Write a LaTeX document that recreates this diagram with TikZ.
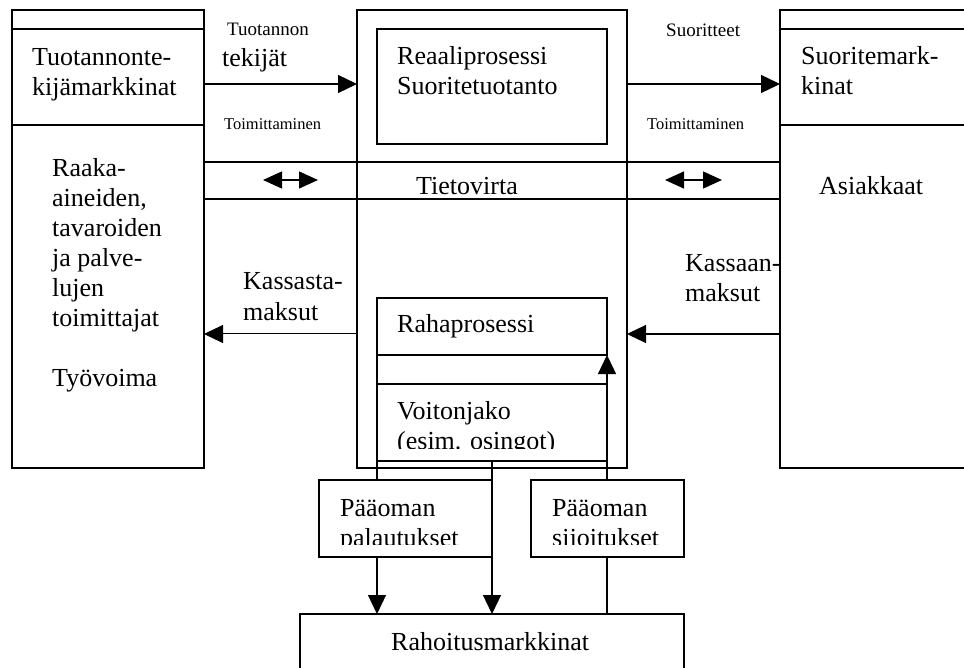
\documentclass[tikz,border=0pt]{standalone}
\usepackage{fontspec}
\setmainfont{Liberation Serif}
\usetikzlibrary{arrows.meta,calc}

\tikzset{
  box/.style={draw, line width=1.6pt, inner sep=0pt, outer sep=0pt, anchor=north west},
  flow/.style={line width=1.3pt, -{Triangle[length=19pt,width=18pt]}},
  swap/.style={line width=1.3pt, {Triangle[length=19pt,width=17pt]}-{Triangle[length=19pt,width=17pt]}},
  txt/.style={anchor=base west, align=left, inner sep=0pt, font=\fontsize{26}{30}\selectfont},
  lbl/.style={anchor=base west, inner sep=0pt, font=\fontsize{19}{22}\selectfont},
  lblsmall/.style={anchor=base west, inner sep=0pt, font=\fontsize{16.5}{20}\selectfont},
}

\begin{document}
\begin{tikzpicture}[x=1pt, y=-1pt]
  \useasboundingbox (0,0) rectangle (964,668);
  % rows used by the horizontal flows
  \coordinate (row1) at (0,84);
  \coordinate (band1) at (0,162);
  \coordinate (band2) at (0,199);
  \coordinate (row2) at (0,334);

  % markets on both sides
  \node[box, minimum width=192pt, minimum height=458pt] (tmk) at (12,10) {};
  \node[box, minimum width=200pt, minimum height=458pt] (asi) at (780,10) {};
  \foreach \n in {tmk, asi} {
    \draw[line width=1.6pt] ($(\n.north west)+(0,19)$) -- ($(\n.north east)+(0,19)$);
    \draw[line width=1.6pt] ($(\n.north west)+(0,115)$) -- ($(\n.north east)+(0,115)$);
  }

  % the firm in the middle
  \node[box, minimum width=270pt, minimum height=458pt] (yri) at (357,10) {};
  \node[box, minimum width=230pt, minimum height=115pt] (reaali) at (377,29) {};
  \node[box, minimum width=230pt, minimum height=57pt] (raha) at (377,298) {};
  \node[box, minimum width=230pt, minimum height=77pt] (voi) at (377,384) {};

  % capital boxes and financial markets
  \node[box, minimum width=173pt, minimum height=77pt] (pal) at (319,480) {};
  \node[box, minimum width=153pt, minimum height=77pt] (sij) at (531,480) {};
  \node[box, minimum width=384pt, minimum height=90pt] (rahm) at (300,614) {};

  % information band
  \draw[line width=1.3pt] (tmk.east |- band1) -- (asi.west |- band1);
  \draw[line width=1.3pt] (tmk.east |- band2) -- (asi.west |- band2);
  \coordinate (s1a) at (263,180);
  \coordinate (s1b) at (318,180);
  \coordinate (s2a) at (665,180);
  \coordinate (s2b) at (722,180);
  \draw[swap] (s1a) -- (s1b);
  \draw[swap] (s2a) -- (s2b);

  % real and money flows
  \draw[flow] (tmk.east |- row1) -- (yri.west |- row1);
  \draw[flow] (yri.east |- row1) -- (asi.west |- row1);
  \draw[flow, line width=1pt] (yri.west |- row2) -- (tmk.east |- row2);
  \draw[flow] (asi.west |- row2) -- (yri.east |- row2);

  % capital flows
  \draw[line width=1.3pt] (raha.south west) -- (voi.north west);
  \draw[line width=1.3pt] (voi.south west) -- (pal.north -| voi.west);
  \draw[flow] (pal.south -| voi.west) -- (rahm.north -| voi.west);
  \draw[flow] (voi.south) -- (rahm.north);
  \draw[flow] (sij.north -| raha.east) -- (raha.south east);
  \draw[line width=1.3pt] (rahm.north -| raha.east) -- (sij.south -| raha.east);

  % texts (base = baseline of the last line)
  \node[txt] (tmkname) at (32,96) {Tuotannonte-\\kijämarkkinat};
  \node[txt] (toimittajat) at (52,386) {Raaka-\\aineiden,\\tavaroiden\\ja palve-\\lujen\\toimittajat\\[30pt]Työvoima};
  \node[txt] (reaalit) at (397,95) {Reaaliprosessi\\Suoritetuotanto};
  \node[txt] (tieto) at (416,195) {Tietovirta};
  \node[txt] (asiname) at (801,95) {Suoritemark-\\kinat};
  \node[txt] (asiakkaat) at (819,195) {Asiakkaat};
  \node[lbl] (tuot) at (227,36) {Tuotannon};
  \node[txt] (tekijat) at (222,67) {tekijät};
  \node[lbl] (suor) at (666,37) {Suoritteet};
  \node[lblsmall] (toim1) at (224,130) {Toimittaminen};
  \node[lblsmall] (toim2) at (647,130) {Toimittaminen};
  \node[txt] (kout) at (243,320) {Kassasta-\\maksut};
  \node[txt] (kin) at (685,302) {Kassaan-\\maksut};
  \node[txt] (rahat) at (397,333) {Rahaprosessi};
  \begin{scope}
    \clip (voi.north west) rectangle ($(voi.south east)+(0,-13)$);
    \node[txt] (voit) at (397,449) {Voitonjako\\(esim. osingot)};
  \end{scope}
  \begin{scope}
    \clip (pal.north west) rectangle ($(sij.south east)+(0,-13)$);
    \node[txt] (palt) at (340,546) {Pääoman\\palautukset};
    \node[txt] (sijt) at (552,546) {Pääoman\\sijoitukset};
  \end{scope}
  \node[txt] (rahmt) at (391,650) {Rahoitusmarkkinat};
\end{tikzpicture}
\end{document}
